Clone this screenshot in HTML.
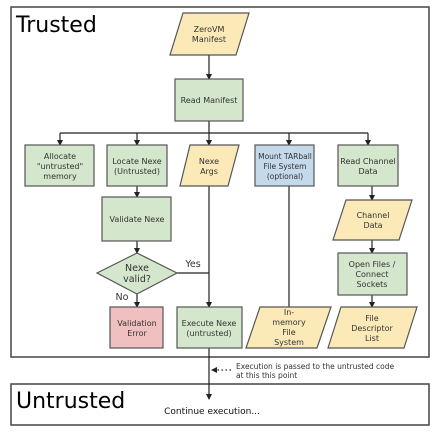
<!DOCTYPE html>
<html><head><style>body{margin:0;background:#fff}svg{display:block}text{font-family:"DejaVu Sans","Liberation Sans",sans-serif;font-size:8px;fill:#333;text-anchor:middle}</style></head><body>
<svg width="440" height="433" viewBox="0 0 440 433" xmlns="http://www.w3.org/2000/svg">
<defs><marker id="a" markerWidth="6" markerHeight="6" refX="5" refY="3" orient="auto" markerUnits="userSpaceOnUse"><path d="M0,0 L6,3 L0,6 z" fill="#222"/></marker></defs>
<rect x="11" y="7" width="418" height="350" fill="none" stroke="#444" stroke-width="1.5"/>
<rect x="11" y="384" width="418" height="41" fill="none" stroke="#444" stroke-width="1.5"/>
<text x="16" y="32" style="font-size:22px;fill:#000;text-anchor:start">Trusted</text>
<text x="16" y="408" style="font-size:22px;fill:#000;text-anchor:start">Untrusted</text>
<g stroke="#222" stroke-width="1.2" fill="none">
<line x1="209" y1="55" x2="209" y2="79" marker-end="url(#a)"/>
<line x1="209" y1="121" x2="209" y2="145" marker-end="url(#a)"/>
<line x1="60" y1="133" x2="368" y2="133"/>
<line x1="60" y1="133" x2="60" y2="145" marker-end="url(#a)"/>
<line x1="137" y1="133" x2="137" y2="145" marker-end="url(#a)"/>
<line x1="289" y1="133" x2="289" y2="145" marker-end="url(#a)"/>
<line x1="368" y1="133" x2="368" y2="145" marker-end="url(#a)"/>
<line x1="137" y1="186" x2="137" y2="197" marker-end="url(#a)"/>
<line x1="137" y1="241" x2="137" y2="253" marker-end="url(#a)"/>
<line x1="137" y1="294" x2="137" y2="307" marker-end="url(#a)"/>
<line x1="209" y1="186" x2="209" y2="307" marker-end="url(#a)"/>
<line x1="177" y1="273" x2="209" y2="273"/>
<line x1="289" y1="186" x2="289" y2="307"/>
<line x1="372" y1="186" x2="372" y2="200" marker-end="url(#a)"/>
<line x1="372" y1="240" x2="372" y2="253" marker-end="url(#a)"/>
<line x1="372" y1="295" x2="372" y2="307" marker-end="url(#a)"/>
<line x1="209" y1="348" x2="209" y2="399" marker-end="url(#a)"/>
<line x1="231" y1="370" x2="212" y2="370" stroke-dasharray="1.5,2.5" marker-end="url(#a)"/>
</g>
<g stroke="#555" stroke-width="1.2">
<polygon points="183,13 249,13 236,55 170,55" fill="#fbeab8"/>
<rect x="175" y="79" width="68" height="42" fill="#d4e6cc"/>
<rect x="25" y="145" width="69" height="41" fill="#d4e6cc"/>
<rect x="107" y="145" width="60" height="41" fill="#d4e6cc"/>
<polygon points="190,145 239,145 228,186 180,186" fill="#fbeab8"/>
<rect x="255" y="145" width="59" height="41" fill="#c5d9ec"/>
<rect x="338" y="145" width="60" height="41" fill="#d4e6cc"/>
<rect x="102" y="197" width="69" height="44" fill="#d4e6cc"/>
<polygon points="137,253 177,273 137,294 97,273" fill="#d4e6cc"/>
<rect x="110" y="307" width="53" height="41" fill="#f0c0c0"/>
<rect x="177" y="307" width="65" height="41" fill="#d4e6cc"/>
<polygon points="260,307 331,307 317,348 246,348" fill="#fbeab8"/>
<polygon points="346,200 412,200 399,240 333,240" fill="#fbeab8"/>
<rect x="338" y="253" width="69" height="42" fill="#d4e6cc"/>
<polygon points="341,307 417,307 404,348 328,348" fill="#fbeab8"/>
</g>
<text x="209" y="32">ZeroVM</text><text x="209" y="42">Manifest</text>
<text x="209" y="103">Read Manifest</text>
<text x="60" y="159">Allocate</text><text x="60" y="169">"untrusted"</text><text x="60" y="179">memory</text>
<text x="137" y="164">Locate Nexe</text><text x="137" y="174">(Untrusted)</text>
<text x="209" y="164">Nexe</text><text x="209" y="174">Args</text>
<text x="285" y="159" style="font-size:7.5px">Mount TARball</text><text x="285" y="169" style="font-size:7.5px">File System</text><text x="285" y="179" style="font-size:7.5px">(optional)</text>
<text x="368" y="164">Read Channel</text><text x="368" y="174">Data</text>
<text x="137" y="222">Validate Nexe</text>
<text x="137" y="271" style="font-size:9.5px">Nexe</text><text x="137" y="282" style="font-size:9.5px">valid?</text>
<text x="193" y="267" style="font-size:9.5px">Yes</text>
<text x="122" y="300" style="font-size:9.5px">No</text>
<text x="137" y="326">Validation</text><text x="137" y="336">Error</text>
<text x="209" y="326">Execute Nexe</text><text x="209" y="336">(untrusted)</text>
<text x="289" y="315">In-</text><text x="289" y="325">memory</text><text x="289" y="335">File</text><text x="289" y="345">System</text>
<text x="373" y="218">Channel</text><text x="373" y="228">Data</text>
<text x="372" y="267">Open Files /</text><text x="372" y="277">Connect</text><text x="372" y="287">Sockets</text>
<text x="372" y="321">File</text><text x="372" y="331">Descriptor</text><text x="372" y="341">List</text>
<text x="236" y="369" style="text-anchor:start;font-size:7.5px">Execution is passed to the untrusted code</text>
<text x="236" y="378" style="text-anchor:start;font-size:7.5px">at this this point</text>
<text x="212" y="414" style="font-size:9px;fill:#111">Continue execution...</text>
</svg>
</body></html>
